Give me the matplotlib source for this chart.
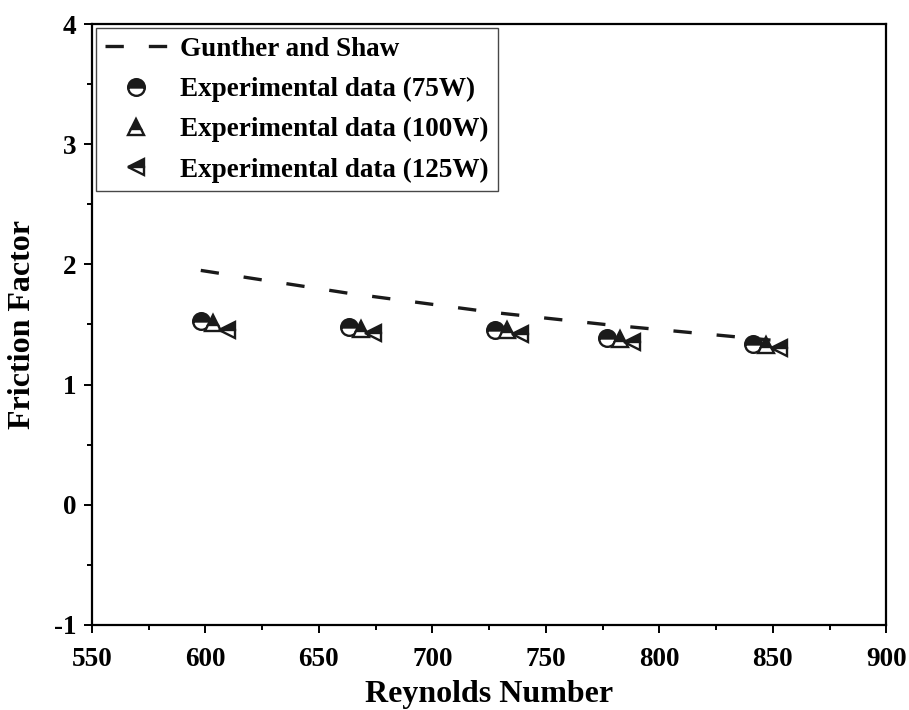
import matplotlib
matplotlib.use('Agg')
import matplotlib.pyplot as plt
from matplotlib.ticker import MultipleLocator

# Gunther and Shaw correlation, evaluated at the test Reynolds numbers
re_gs = [598, 663, 727, 776, 849]
f_gs = [1.95, 1.76, 1.60, 1.50, 1.37]

# Experimental data
re_75 = [598.0, 663.3, 727.7, 777.0, 841.4]
f_75 = [1.53, 1.48, 1.455, 1.39, 1.34]
re_100 = [603.3, 668.5, 733.0, 782.5, 847.0]
f_100 = [1.51, 1.46, 1.45, 1.38, 1.33]
re_125 = [609.5, 673.8, 738.8, 788.2, 852.6]
f_125 = [1.455, 1.43, 1.42, 1.355, 1.30]

plt.rcParams['font.family'] = ['Liberation Serif', 'DejaVu Serif']
plt.rcParams['font.weight'] = 'bold'
plt.rcParams['axes.unicode_minus'] = False

fig = plt.figure(figsize=(9.09, 7.10), dpi=100)
ax = fig.add_axes([0.101, 0.120, 0.874, 0.846])

ax.plot(re_gs, f_gs, color='#1a1a1a', lw=2.4, dashes=(5.5, 7.5),
        label='Gunther and Shaw')
mk = dict(ls='none', ms=12, mew=1.7, color='#1a1a1a', mfc='#1a1a1a',
          mec='#1a1a1a', markerfacecoloralt='white', fillstyle='top')
ax.plot(re_75, f_75, marker='o', label='Experimental data (75W)', **mk)
ax.plot(re_100, f_100, marker='^', label='Experimental data (100W)', **mk)
ax.plot(re_125, f_125, marker='<', label='Experimental data (125W)', **mk)

ax.set_xlim(550, 900)
ax.set_ylim(-1, 4)
ax.xaxis.set_major_locator(MultipleLocator(50))
ax.xaxis.set_minor_locator(MultipleLocator(25))
ax.yaxis.set_major_locator(MultipleLocator(1))
ax.yaxis.set_minor_locator(MultipleLocator(0.5))
ax.tick_params(which='both', direction='out', top=False, right=False,
               width=1.4, labelsize=19.5)
ax.tick_params(which='major', length=6)
ax.tick_params(which='minor', length=3.5)
ax.tick_params(axis='x', pad=10)
ax.tick_params(axis='y', pad=5)
for sp in ax.spines.values():
    sp.set_linewidth(1.6)

ax.set_xlabel('Reynolds Number', fontsize=23, fontweight='bold', labelpad=6)
ax.set_ylabel('Friction Factor', fontsize=23, fontweight='bold', labelpad=12)

leg = ax.legend(loc='upper left', numpoints=1, fontsize=19.5, frameon=True,
                fancybox=False, edgecolor='#1a1a1a', handlelength=2.3,
                handletextpad=0.5, labelspacing=0.56, borderaxespad=0.15,
                borderpad=0.32)
leg.get_frame().set_linewidth(1.0)

fig.savefig('out.png', dpi=100)
